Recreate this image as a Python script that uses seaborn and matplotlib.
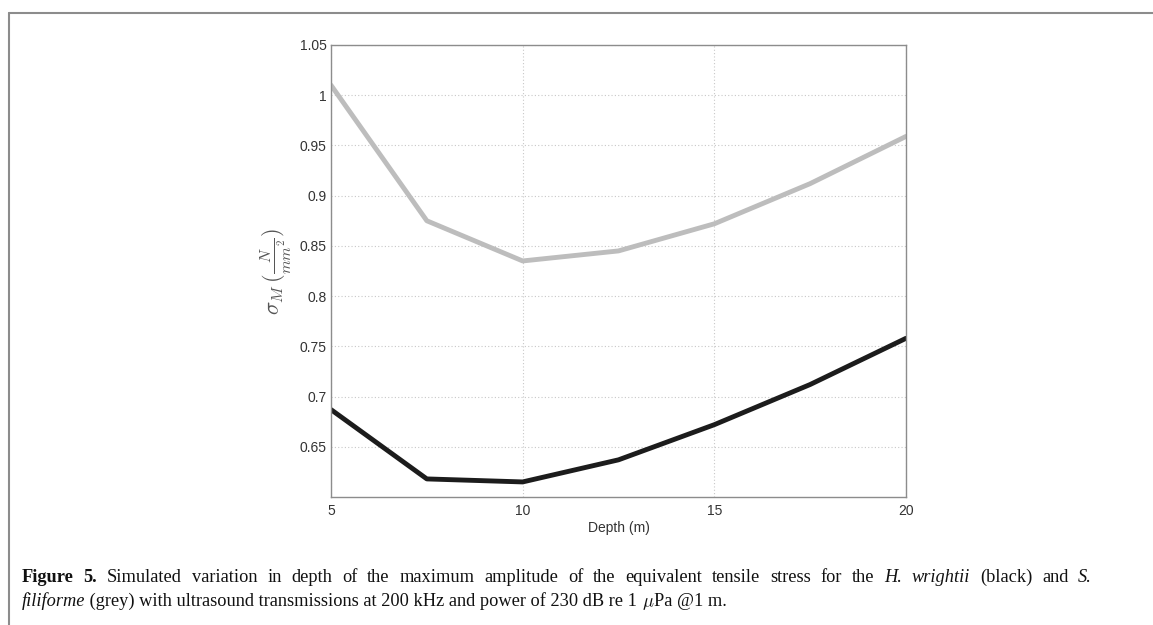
import matplotlib
matplotlib.use("Agg")
import matplotlib.pyplot as plt
import pandas as pd
import seaborn as sns
from matplotlib.lines import Line2D

# ── Data ─────────────────────────────────────────────────────────────────────
depth = [5, 7.5, 10, 12.5, 15, 17.5, 20]
s_filiforme = [1.010, 0.875, 0.835, 0.845, 0.872, 0.912, 0.959]   # grey
h_wrightii = [0.687, 0.618, 0.615, 0.637, 0.672, 0.712, 0.758]    # black
x_ticks = [5, 10, 15, 20]
y_ticks = [0.65, 0.7, 0.75, 0.8, 0.85, 0.9, 0.95, 1.0, 1.05]
y_tick_labels = ["0.65", "0.7", "0.75", "0.8", "0.85", "0.9", "0.95", "1", "1.05"]

df = pd.DataFrame({
    "depth": depth * 2,
    "stress": s_filiforme + h_wrightii,
    "species": ["S. filiforme"] * len(depth) + ["H. wrightii"] * len(depth),
})

sns.set_style("white")
plt.rcParams["font.family"] = ["Liberation Sans", "DejaVu Sans"]
plt.rcParams["mathtext.fontset"] = "cm"

W, H = 1153, 625
fig = plt.figure(figsize=(W / 100, H / 100), dpi=100)
ax = fig.add_axes([331 / W, 1 - 497 / H, (906 - 331) / W, (497 - 45) / H])

sns.lineplot(data=df, x="depth", y="stress", hue="species",
             palette={"S. filiforme": "#bdbdbd", "H. wrightii": "#1c1c1c"},
             linewidth=3.5, legend=False, ax=ax)

ax.set_xlim(5, 20)
ax.set_ylim(0.6, 1.05)
ax.set_xticks(x_ticks)
ax.set_xticklabels([str(t) for t in x_ticks])
ax.set_yticks(y_ticks)
ax.set_yticklabels(y_tick_labels)
ax.tick_params(axis="both", direction="in", length=3, colors="#999999",
               labelcolor="#333333", labelsize=10, pad=3)
ax.tick_params(axis="x", pad=5)
ax.grid(True, linestyle=(0, (1, 2)), color="#c8c8c8", linewidth=0.8)
for sp in ax.spines.values():
    sp.set_color("#8c8c8c")
    sp.set_linewidth(1.0)

ax.set_xlabel("Depth (m)", fontsize=10, color="#333333", labelpad=2)
ax.set_ylabel(r"$\sigma_M\,(\frac{N}{mm^2})$", fontsize=16, color="#555555",
              labelpad=4)

# ── Frame around the figure ──────────────────────────────────────────────────
fig.add_artist(Line2D([9 / W, 1.0], [1 - 12.5 / H, 1 - 12.5 / H],
                      color="#8c8c8c", linewidth=1.5, transform=fig.transFigure))
fig.add_artist(Line2D([9 / W, 9 / W], [0.0, 1 - 12.5 / H],
                      color="#8c8c8c", linewidth=1.5, transform=fig.transFigure))

# ── Caption (mixed bold / italic words) ──────────────────────────────────────
fig.canvas.draw()
renderer = fig.canvas.get_renderer()
cap_size = 13.2
serif = ["Liberation Serif", "DejaVu Serif"]


def make_text(txt, style, y0):
    kw = {}
    if style == "b":
        kw["fontweight"] = "bold"
    if style == "i":
        kw["fontstyle"] = "italic"
    t = fig.text(0, y0, txt, fontsize=cap_size, color="#111111", family=serif,
                 ha="left", va="baseline", **kw)
    return t, t.get_window_extent(renderer=renderer).width


def put_justified(words, x0_px, x1_px, y_px):
    y0 = 1 - y_px / H
    items = [make_text(w, s, y0) for w, s in words]
    total = sum(w for _, w in items)
    gap = (x1_px - x0_px - total) / (len(items) - 1)
    x = x0_px
    for t, w in items:
        t.set_x(x / W)
        x += w + gap


def put_line(pieces, x0_px, y_px):
    y0 = 1 - y_px / H
    x = x0_px
    for txt, style in pieces:
        t, w = make_text(txt, style, y0)
        t.set_x(x / W)
        x += w


line1 = [("Figure", "b"), ("5.", "b")]
line1 += [(w, "n") for w in ("Simulated variation in depth of the maximum amplitude "
                             "of the equivalent tensile stress for the").split()]
line1 += [("H.", "i"), ("wrightii", "i"), ("(black)", "n"), ("and", "n"), ("S.", "i")]

line2 = [
    ("filiforme", "i"),
    (" (grey) with ultrasound transmissions at 200 kHz and power of 230 dB re 1 ", "n"),
    (r"$\mu$", "i"),
    ("Pa @1 m.", "n"),
]
put_justified(line1, 22, 1092, 582)
put_line(line2, 22, 606)

fig.savefig("out.png", dpi=100)
